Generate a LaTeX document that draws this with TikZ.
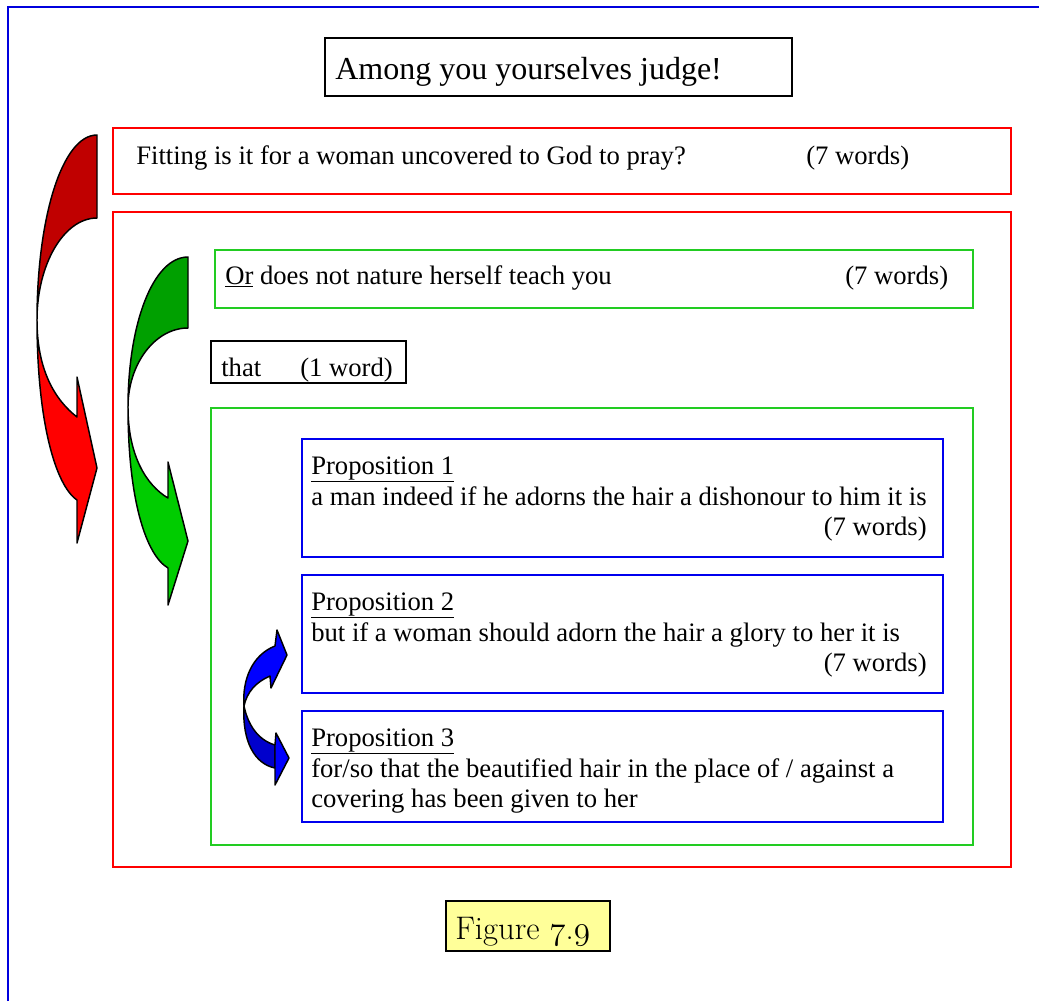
\documentclass[tikz,border=0pt]{standalone}
\usepackage{fontspec}
\setmainfont{Liberation Serif}
\usetikzlibrary{fit}

\definecolor{lineRed}{HTML}{FF0000}
\definecolor{lineGreen}{HTML}{22CC22}
\definecolor{lineBlue}{HTML}{0000EE}
\definecolor{pageBlue}{HTML}{0000DD}
\definecolor{labelYellow}{HTML}{FFFF99}
\definecolor{redDark}{HTML}{C00000}
\definecolor{redLight}{HTML}{FF0000}
\definecolor{greenDark}{HTML}{00A000}
\definecolor{greenLight}{HTML}{00CC00}
\definecolor{blueLight}{HTML}{0000FF}
\definecolor{blueDark}{HTML}{0000CC}

% old-style figures taken from the math italic font
\newcommand{\osf}[1]{{\usefont{OML}{cmm}{m}{it}#1}}

\begin{document}
\begin{tikzpicture}[x=0.75pt, y=-0.75pt,
  frame/.style={draw, line width=1.2pt, inner sep=0pt, outer sep=0pt},
  redframe/.style={frame, draw=lineRed},
  greenframe/.style={frame, draw=lineGreen},
  blueframe/.style={frame, draw=lineBlue},
  blackframe/.style={frame, draw=black, line width=1.5pt},
  txt/.style={inner sep=0pt, anchor=base west, font=\fontsize{20}{22.5}\selectfont},
  rtxt/.style={txt, anchor=base east},
  band/.style={draw=black, line width=1.1pt, line join=round}]

\useasboundingbox (0,0) rectangle (1039,1001);

% page border (only the top and left edges are visible)
\draw[pageBlue, line width=1.5pt] (8,1001) -- (8,7) -- (1039,7);

% heading
\node[blackframe, fit={(325,38) (792,96)}] (head) {};
\node[txt, font=\fontsize{24}{28}\selectfont] (headtxt) at (335,79) {Among you yourselves judge!};

% first question
\node[redframe, fit={(113,128) (1011,194)}] (q1) {};
\node[txt] (q1txt) at (136,164) {Fitting is it for a woman uncovered to God to pray?};
\node[txt] (q1cnt) at (806,164) {(7 words)};

% second question
\node[redframe, fit={(113,212) (1011,867)}] (q2) {};
\node[greenframe, fit={(215,250) (973,308)}] (q2a) {};
\node[txt] (q2atxt) at (225,284) {\underline{Or} does not nature herself teach you};
\node[txt] (q2acnt) at (845,284) {(7 words)};

\node[blackframe, fit={(211,341) (406,383)}] (that) {};
\node[txt] (thattxt) at (221,376) {that};
\node[txt] (thatcnt) at (300,376) {(1 word)};

\node[greenframe, fit={(211,408) (973,845)}] (props) {};

% propositions
\node[blueframe, fit={(302,439) (943,557)}] (p1) {};
\node[txt] (p1h) at (311,474) {\underline{Proposition 1}};
\node[txt] (p1t) at (311,505) {a man indeed if he adorns the hair a dishonour to him it is};
\node[rtxt] (p1c) at (927,535) {(7 words)};

\node[blueframe, fit={(302,575) (943,693)}] (p2) {};
\node[txt] (p2h) at (311,610) {\underline{Proposition 2}};
\node[txt] (p2t) at (311,641) {but if a woman should adorn the hair a glory to her it is};
\node[rtxt] (p2c) at (927,671) {(7 words)};

\node[blueframe, fit={(302,711) (943,822)}] (p3) {};
\node[txt] (p3h) at (311,746) {\underline{Proposition 3}};
\node[txt] (p3t) at (311,777) {for/so that the beautified hair in the place of / against a};
\node[txt] (p3u) at (311,807) {covering has been given to her};

% caption
\node[frame, draw=black, fill=labelYellow, fit={(446,901) (610,951)}] (fig) {};
\node[txt, font=\fontsize{24.5}{28}\fontfamily{lmr}\selectfont] (figtxt) at (455,939) {Figure \osf{7}.\osf{9}};

% red curved arrow
\filldraw[band, fill=redDark] (97,135) .. controls (62,135) and (37,218) .. (37,320)
  .. controls (37,264) and (64,218) .. (97,218) -- cycle;
\filldraw[band, fill=redLight] (37,320) .. controls (37,420) and (55,485) .. (77,500)
  -- (77,543) -- (97,468) -- (77,377) -- (77,417)
  .. controls (55,400) and (37,370) .. (37,320) -- cycle;

% green curved arrow
\filldraw[band, fill=greenDark] (188,257) .. controls (153,257) and (128,324) .. (128,407)
  .. controls (128,364) and (155,328) .. (188,328) -- cycle;
\filldraw[band, fill=greenLight] (128,407) .. controls (128,500) and (146,555) .. (168,568)
  -- (168,605) -- (188,541) -- (168,462) -- (168,498)
  .. controls (146,485) and (128,455) .. (128,407) -- cycle;

% blue double curved arrow
\filldraw[band, fill=blueLight] (244,706) .. controls (242,680) and (252,655) .. (275,646)
  -- (277,630) -- (287,655) -- (271,688) -- (270,676)
  .. controls (256,682) and (247,692) .. (244,706) -- cycle;
\filldraw[band, fill=blueDark] (244,706) .. controls (242,742) and (255,764) .. (275,768)
  -- (275,745) .. controls (258,740) and (248,725) .. (244,706) -- cycle;
\filldraw[band, fill=blueLight] (275,768) -- (275,785) -- (289,758) -- (276,733) -- (275,745) -- cycle;

\end{tikzpicture}
\end{document}
